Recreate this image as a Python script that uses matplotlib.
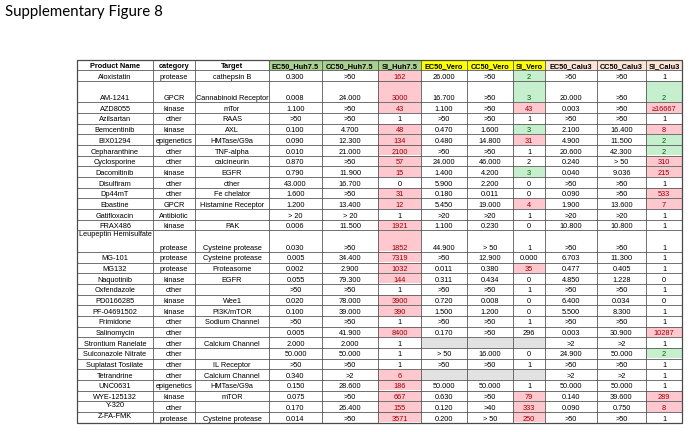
import matplotlib.pyplot as plt
from matplotlib.patches import Rectangle

# ---- table content ----
headers = ["Product Name", "category", "Target",
           "EC50_Huh7.5", "CC50_Huh7.5", "SI_Huh7.5",
           "EC50_Vero", "CC50_Vero", "SI_Vero",
           "EC50_Calu3", "CC50_Calu3", "SI_Calu3"]

names = ["Aloxistatin", "AM-1241", "AZD8055", "Azilsartan", "Bemcentinib", "BIX01294",
         "Cepharanthine", "Cyclosporine", "Dacomitinib", "Disulfiram", "Dp44mT", "Ebastine",
         "Gatifloxacin", "FRAX486", "Leupeptin Hemisulfate", "MG-101", "MG132", "Naquotinib",
         "Oxfendazole", "PD0166285", "PF-04691502", "Primidone", "Salinomycin",
         "Strontium Ranelate", "Sulconazole Nitrate", "Suplatast Tosilate", "Tetrandrine",
         "UNC0631", "WYE-125132", "Y-320", "Z-FA-FMK"]

categories = ["protease", "GPCR", "kinase", "other", "kinase", "epigenetics", "other", "other",
              "kinase", "other", "other", "GPCR", "Antibiotic", "kinase", "protease", "protease",
              "protease", "kinase", "other", "kinase", "kinase", "other", "other", "other",
              "other", "other", "other", "epigenetics", "kinase", "other", "protease"]

targets = ["cathepsin B", "Cannabinoid Receptor", "mTor", "RAAS", "AXL", "HMTase/G9a",
           "TNF-alpha", "calcineurin", "EGFR", "other", "Fe chelator", "Histamine Receptor",
           "", "PAK", "Cysteine protease", "Cysteine protease", "Proteasome", "EGFR", "",
           "Wee1", "PI3K/mTOR", "Sodium Channel", "", "Calcium Channel", "", "IL Receptor",
           "Calcium Channel", "HMTase/G9a", "mTOR", "", "Cysteine protease"]

ec50_huh = ["0.300", "0.008", "1.100", ">50", "0.100", "0.090", "0.010", "0.870", "0.790",
            "43.000", "1.600", "1.200", "> 20", "0.006", "0.030", "0.005", "0.002", "0.055",
            ">50", "0.020", "0.100", ">50", "0.005", "2.000", "50.000", ">50", "0.340",
            "0.150", "0.075", "0.170", "0.014"]
cc50_huh = [">50", "24.000", ">50", ">50", "4.700", "12.300", "21.000", ">50", "11.900",
            "16.700", ">50", "13.400", "> 20", "11.500", ">50", "34.400", "2.900", "79.300",
            ">50", "78.000", "39.000", ">50", "41.900", "2.000", "50.000", ">50", ">2",
            "28.600", ">50", "26.400", ">50"]
si_huh = ["162", "3000", "43", "1", "48", "134", "2100", "57", "15", "0", "31", "12", "1",
          "1921", "1852", "7319", "1032", "144", "1", "3900", "390", "1", "8400", "1", "1",
          "1", "6", "186", "667", "155", "3571"]

ec50_vero = ["26.000", "16.700", "1.100", ">50", "0.470", "0.480", ">50", "24.000", "1.400",
             "5.900", "0.180", "5.450", ">20", "1.100", "44.900", ">50", "0.011", "0.311",
             ">50", "0.720", "1.500", ">50", "0.170", "", "> 50", ">50", "", "50.000",
             "0.630", "0.120", "0.200"]
cc50_vero = [">50", ">50", ">50", ">50", "1.600", "14.800", ">50", "46.000", "4.200",
             "2.200", "0.011", "19.000", ">20", "0.230", "> 50", "12.900", "0.380", "0.434",
             ">50", "0.008", "1.200", ">50", ">50", "", "16.000", ">50", "", "50.000",
             ">50", ">40", "> 50"]
si_vero = ["2", "3", "43", "1", "3", "31", "1", "2", "3", "0", "0", "4", "1", "0", "1",
           "0.000", "35", "0", "1", "0", "0", "1", "296", "", "0", "1", "", "1", "79",
           "333", "250"]

ec50_calu = [">50", "20.000", "0.003", ">50", "2.100", "4.900", "20.600", "0.240", "0.040",
             ">50", "0.090", "1.900", ">20", "10.800", ">50", "6.703", "0.477", "4.850",
             ">50", "6.400", "5.500", ">50", "0.003", ">2", "24.900", ">50", ">2", "50.000",
             "0.140", "0.090", ">50"]
cc50_calu = [">50", ">50", ">50", ">50", "16.400", "11.500", "42.300", "> 50", "9.036",
             ">50", ">50", "13.600", ">20", "10.800", ">50", "11.300", "0.405", "1.228",
             ">50", "0.034", "8.300", ">50", "30.900", ">2", "50.000", ">50", ">2",
             "50.000", "39.600", "0.750", ">50"]
si_calu = ["1", "2", "\u226516667", "1", "8", "2", "2", "310", "215", "1", "533", "7", "1",
           "1", "1", "1", "1", "0", "1", "0", "1", "1", "10287", "1", "2", "1", "1", "1",
           "289", "8", "1"]

# highlight of SI cells: r = red, g = green, x = no data (grey), - = none
si_huh_mark = list("rrr-rrrrr-rr-rrrrr-rr-r---rrrrr")
si_vero_mark = list("ggr-gr--g--r----r------x--x-rrr")
si_calu_mark = list("-gr-rggrr-rr----------r-g---rr-")

columns = [names, categories, targets, ec50_huh, cc50_huh, si_huh,
           ec50_vero, cc50_vero, si_vero, ec50_calu, cc50_calu, si_calu]
marks = {5: si_huh_mark, 8: si_vero_mark, 11: si_calu_mark}

# ---- layout (pixels) ----
col_edges = [77, 153, 195, 269, 322, 378, 421, 467, 513, 545, 597, 646, 682]
top = 59.6
unit = 10.68
tall_rows = {"AM-1241": 2, "Leupeptin Hemisulfate": 2}
name_on_top = {"Leupeptin Hemisulfate", "Y-320", "Z-FA-FMK"}
vero_cols = (6, 7, 8)

head_fill = ["white"] * 3 + ["#a9d08e"] * 3 + ["#ffff00"] * 3 + ["#fce4d6"] * 3
red_fill, red_text = "#ffc7ce", "#9c0006"
green_fill, green_text = "#c6efce", "#006100"
grey_fill = "#e2e2e2"
line_col = "#4a4a4a"
fs = 5.3

plt.rcParams['font.family'] = ['Liberation Sans', 'DejaVu Sans']

fig = plt.figure(figsize=(6.9, 4.32), dpi=100)
ax = fig.add_axes([0, 0, 1, 1])
ax.set_xlim(0, 690)
ax.set_ylim(432, 0)
ax.axis('off')

ax.text(5, 12, "Supplementary Figure 8", fontsize=10.8, family=['Lato', 'DejaVu Sans'],
        va='center', ha='left', color='black')

# header
y0, y1 = top, top + unit
for j, h in enumerate(headers):
    x0, x1 = col_edges[j], col_edges[j + 1]
    ax.add_patch(Rectangle((x0, y0), x1 - x0, y1 - y0, facecolor=head_fill[j],
                           edgecolor='none', zorder=1))
    ax.text((x0 + x1) / 2, y1 - 2.2, h, fontsize=fs, fontweight='bold',
            ha='center', va='baseline', zorder=3)

row_lines = [y0, y1]
y = y1
for i, nm in enumerate(names):
    h = unit * tall_rows.get(nm, 1)
    ya, yb = y, y + h
    for j, col in enumerate(columns):
        x0, x1 = col_edges[j], col_edges[j + 1]
        txt = col[i]
        tcol = 'black'
        fill = None
        if j in marks:
            m = marks[j][i]
            if m == 'r':
                fill, tcol = red_fill, red_text
            elif m == 'g':
                fill, tcol = green_fill, green_text
        if j in vero_cols and marks[8][i] == 'x':
            fill = grey_fill
        if fill:
            ax.add_patch(Rectangle((x0 + 0.4, ya + 0.4), x1 - x0 - 0.8, h - 0.8,
                                   facecolor=fill, edgecolor='none', zorder=1))
        if not txt:
            continue
        if j == 0 and nm in name_on_top:
            ax.text((x0 + x1) / 2, ya + 1.0, txt, fontsize=fs, color=tcol,
                    ha='center', va='top', zorder=3)
        else:
            ax.text((x0 + x1) / 2, yb - 2.2, txt, fontsize=fs, color=tcol,
                    ha='center', va='baseline', zorder=3)
    y = yb
    row_lines.append(y)

bottom = y
for yl in row_lines:
    ax.plot([col_edges[0], col_edges[-1]], [yl, yl], color=line_col, lw=0.55, zorder=2)
for xl in col_edges:
    ax.plot([xl, xl], [top, bottom], color=line_col, lw=0.55, zorder=2)
ax.add_patch(Rectangle((col_edges[0], top), col_edges[-1] - col_edges[0], bottom - top,
                       facecolor='none', edgecolor=line_col, lw=0.9, zorder=2))

fig.savefig("out.png", dpi=100)
